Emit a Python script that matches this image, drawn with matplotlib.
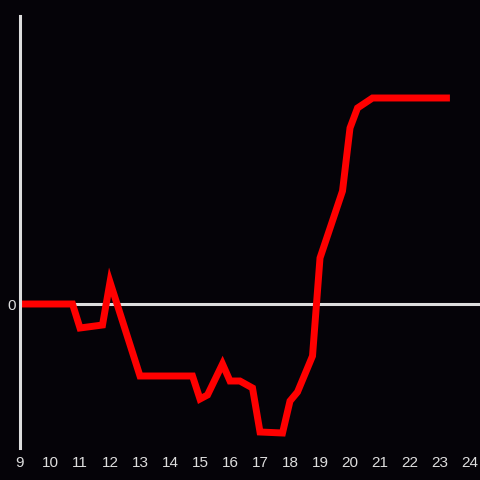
import matplotlib
matplotlib.use('Agg')
import matplotlib.pyplot as plt

# hour of day and value (arbitrary units, 0 = baseline)
hours = [9.0, 10.75, 11.0, 11.75, 12.0, 13.0, 14.75, 15.0, 15.25, 15.75, 16.0, 16.33,
         16.75, 17.0, 17.75, 18.0, 18.25, 18.75, 19.0, 19.75, 20.0, 20.25, 20.75, 23.33]
values = [0, 0, -2.4, -2.1, 2.2, -7.2, -7.2, -9.5, -9.1, -6.0, -7.7, -7.7,
          -8.4, -12.8, -12.9, -9.7, -8.8, -5.2, 4.6, 11.3, 17.6, 19.6, 20.6, 20.6]
xticks = list(range(9, 25))

BG = '#050308'
FG = '#dddddd'

fig = plt.figure(figsize=(4.8, 4.8), dpi=100, facecolor=BG)
ax = fig.add_axes([20/480, 32/480, 460/480, 432/480], facecolor=BG)

ax.axhline(0, color=FG, lw=2.2, zorder=1)
ax.plot(hours, values, color='#ff0000', lw=5, solid_joinstyle='miter',
        solid_capstyle='butt', zorder=2)

ax.set_xlim(9, 24.333)
ax.set_ylim(-14.4, 28.8)
ax.set_xticks(xticks)
ax.set_xticklabels([str(t) for t in xticks])
ax.set_yticks([0])
ax.set_yticklabels(['0'])
ax.tick_params(length=0, colors=FG, labelsize=11, pad=6)
ax.tick_params(axis='y', pad=3)
for lab in ax.get_xticklabels() + ax.get_yticklabels():
    lab.set_family('Liberation Sans')

for s in ['top', 'right', 'bottom']:
    ax.spines[s].set_visible(False)
ax.spines['left'].set_color(FG)
ax.spines['left'].set_linewidth(2.2)

fig.savefig('out.png', dpi=100, facecolor=BG)
